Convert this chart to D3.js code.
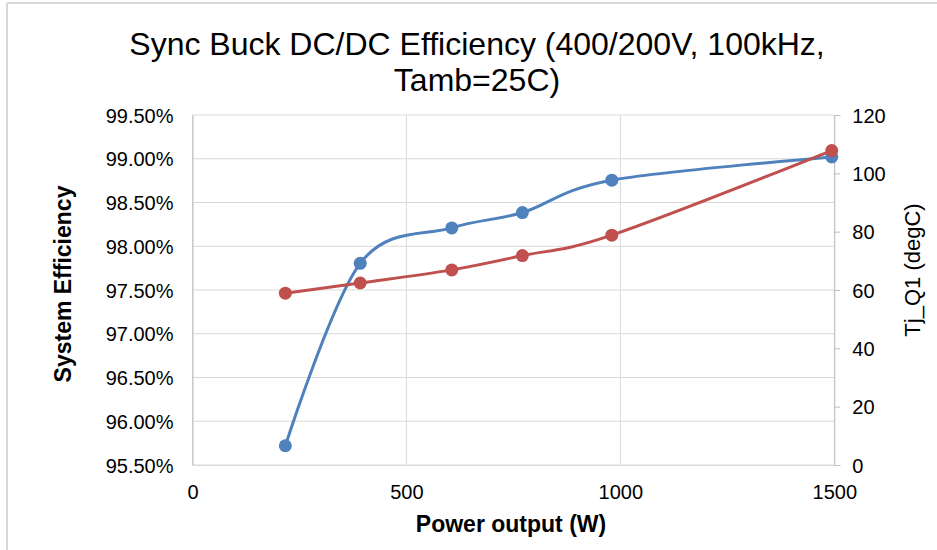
<!DOCTYPE html>
<html>
<head>
<meta charset="utf-8">
<script src="https://cdn.jsdelivr.net/npm/d3@7"></script>
<style>
  body { margin: 0; background: #fff; }
  text { font-family: "Liberation Sans", Arial, sans-serif; fill: #000; }
</style>
</head>
<body>
<svg id="chart" width="937" height="550"></svg>
<script>
var power = [217, 392, 606, 771, 980, 1494];
var efficiency = [95.72, 97.805, 98.21, 98.385, 98.755, 99.02];
var tjQ1 = [58.9, 62.4, 66.9, 71.8, 78.8, 107.8];
var xTicks = [0, 500, 1000, 1500];
var effTicks = [95.5, 96, 96.5, 97, 97.5, 98, 98.5, 99, 99.5];
var tjTicks = [0, 20, 40, 60, 80, 100, 120];

var svg = d3.select("#chart");
var plotLeft = 192.5, plotRight = 834.3, plotTop = 115, plotBottom = 465;

var x = d3.scaleLinear().domain([0, 1500]).range([plotLeft, plotRight]);
var yL = d3.scaleLinear().domain([95.5, 99.5]).range([plotBottom, plotTop]);
var yR = d3.scaleLinear().domain([0, 120]).range([plotBottom, plotTop]);

// outer frame (only left/top visible in the picture)
svg.append("line").attr("x1", 7).attr("y1", 3).attr("x2", 937).attr("y2", 3)
  .attr("stroke", "#d9d9d9").attr("stroke-width", 2);
svg.append("line").attr("x1", 7).attr("y1", 3).attr("x2", 7).attr("y2", 550)
  .attr("stroke", "#d9d9d9").attr("stroke-width", 2);

// gridlines
svg.append("g").selectAll("line").data(effTicks).enter().append("line")
  .attr("x1", plotLeft).attr("x2", plotRight)
  .attr("y1", function(d){ return yL(d); }).attr("y2", function(d){ return yL(d); })
  .attr("stroke", "#d9d9d9").attr("stroke-width", 1);
svg.append("g").selectAll("line").data(xTicks).enter().append("line")
  .attr("x1", function(d){ return x(d); }).attr("x2", function(d){ return x(d); })
  .attr("y1", plotTop).attr("y2", plotBottom)
  .attr("stroke", "#d9d9d9").attr("stroke-width", 1);

// left axis
var gl = svg.append("g").attr("transform", "translate(" + plotLeft + ",0)")
  .call(d3.axisLeft(yL).tickValues(effTicks).tickSize(0).tickPadding(19)
    .tickFormat(function(d){ return d3.format(".2f")(d) + "%"; }));
gl.select(".domain").attr("stroke", "#bfbfbf");
gl.selectAll("text").style("font-size", "20px").attr("dy", "0.35em")
  .style("font-family", "Liberation Sans, Arial, sans-serif");

// right axis
var gr = svg.append("g").attr("transform", "translate(" + plotRight + ",0)")
  .call(d3.axisRight(yR).tickValues(tjTicks).tickSize(6).tickPadding(12));
gr.select(".domain").attr("stroke", "#bfbfbf");
gr.selectAll(".tick line").attr("stroke", "#bfbfbf");
gr.selectAll("text").style("font-size", "20px").attr("dy", "0.35em")
  .style("font-family", "Liberation Sans, Arial, sans-serif");

// bottom axis
var gb = svg.append("g").attr("transform", "translate(0," + plotBottom + ")")
  .call(d3.axisBottom(x).tickValues(xTicks).tickSize(0).tickPadding(20)
    .tickFormat(d3.format("d")));
gb.select(".domain").attr("stroke", "#d9d9d9");
gb.selectAll("text").style("font-size", "20px")
  .style("font-family", "Liberation Sans, Arial, sans-serif");

// lines
var data = power.map(function(p, i){ return {p: p, e: efficiency[i], t: tjQ1[i]}; });

var effLine = d3.line().curve(d3.curveCardinal.tension(0))
  .x(function(d){ return x(d.p); }).y(function(d){ return yL(d.e); });
var tjLine = d3.line().curve(d3.curveCardinal.tension(0))
  .x(function(d){ return x(d.p); }).y(function(d){ return yR(d.t); });

svg.append("path").datum(data).attr("d", effLine)
  .attr("fill", "none").attr("stroke", "#4f81bd").attr("stroke-width", 3);
svg.append("path").datum(data).attr("d", tjLine)
  .attr("fill", "none").attr("stroke", "#c0504d").attr("stroke-width", 3);

svg.append("g").selectAll("circle").data(data).enter().append("circle")
  .attr("cx", function(d){ return x(d.p); }).attr("cy", function(d){ return yL(d.e); })
  .attr("r", 6.5).attr("fill", "#4f81bd");
svg.append("g").selectAll("circle").data(data).enter().append("circle")
  .attr("cx", function(d){ return x(d.p); }).attr("cy", function(d){ return yR(d.t); })
  .attr("r", 6.5).attr("fill", "#c0504d");

// title
svg.append("text").attr("x", 477).attr("y", 55).attr("text-anchor", "middle")
  .style("font-size", "32px").text("Sync Buck DC/DC Efficiency (400/200V, 100kHz,");
svg.append("text").attr("x", 477).attr("y", 91).attr("text-anchor", "middle")
  .style("font-size", "32px").text("Tamb=25C)");

// axis titles
svg.append("text").attr("x", 511).attr("y", 532).attr("text-anchor", "middle")
  .style("font-size", "23px").style("font-weight", "bold").text("Power output (W)");
svg.append("text").attr("transform", "translate(71,284) rotate(-90)")
  .attr("text-anchor", "middle")
  .style("font-size", "23px").style("font-weight", "bold").text("System Efficiency");
svg.append("text").attr("transform", "translate(920,270) rotate(-90)")
  .attr("text-anchor", "middle")
  .style("font-size", "22px").text("Tj_Q1 (degC)");
</script>
</body>
</html>
